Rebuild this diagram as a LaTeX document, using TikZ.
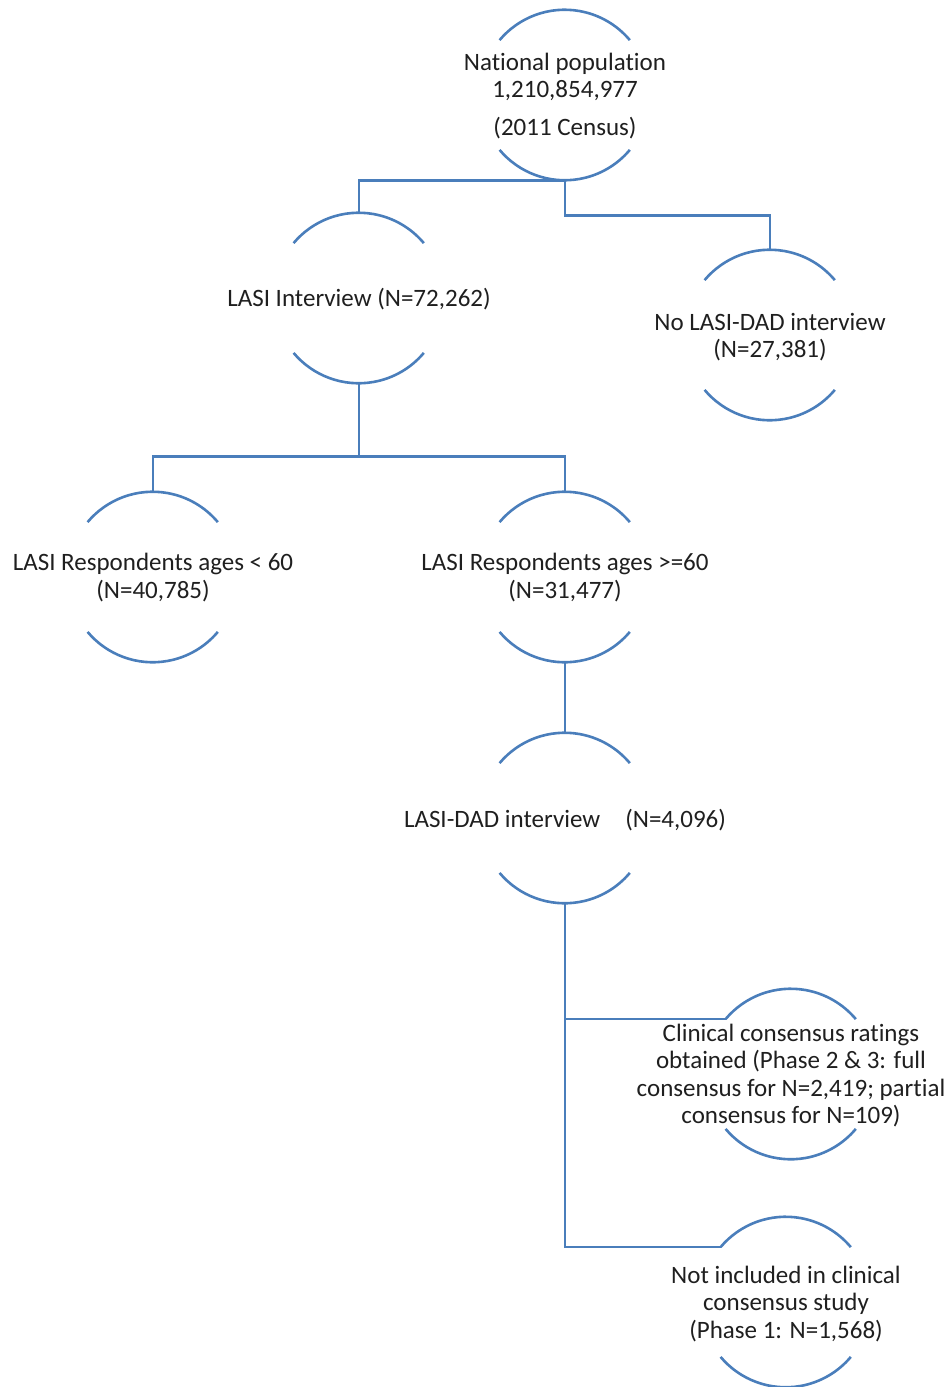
\documentclass[tikz,border=0pt]{standalone}
\usepackage{fontspec}
\setmainfont{Carlito}[Ligatures={NoCommon}]
\begin{document}
\begin{tikzpicture}[x=0.5pt,y=0.5pt,
  flow/.style={draw=lineblue,line width=1.3pt},
  bub/.style={circle,draw=none,minimum size=85pt,inner sep=0pt},
  txt/.style={align=center,font=\fontsize{12.5pt}{13.6pt}\selectfont,inner sep=0pt,text=black!88}]
\definecolor{lineblue}{RGB}{74,126,187}
\useasboundingbox (0,0) rectangle (947,-1387);
% bubble shapes
\node[bub] (top) at (565,-95) {};
\node[bub] (lasi) at (359,-298) {};
\node[bub] (nolasi) at (770,-335) {};
\node[bub] (young) at (153,-577) {};
\node[bub] (old) at (565,-577) {};
\node[bub] (dad) at (565,-818) {};
\node[bub] (clin) at (791,-1074) {};
\node[bub] (notinc) at (786,-1302) {};
\foreach \n in {top,lasi,nolasi,young,old,dad,clin,notinc}{
  \draw[flow] (\n.140) arc[start angle=140,end angle=40,radius=42.5pt];
  \draw[flow] (\n.220) arc[start angle=220,end angle=320,radius=42.5pt];
}
% texts
\node[txt] (topt) at (565,-96) {National population\\1,210,854,977\\[5.5pt](2011 Census)};
\node[txt] (lasit) at (359,-299) {LASI Interview (N=72,262)};
\node[txt] (nolasit) at (770,-337) {No LASI-DAD interview\\(N=27,381)};
\node[txt] (youngt) at (153,-577.5) {LASI Respondents ages {\char`\<} 60\\(N=40,785)};
\node[txt] (oldt) at (565,-577.5) {LASI Respondents ages {\char`\>}=60\\(N=31,477)};
\node[txt] (dadt) at (565,-820) {LASI-DAD interview\hspace{1.0em}(N=4,096)};
\node[txt] (clint) at (791,-1075.5) {Clinical consensus ratings\\obtained (Phase 2 \& 3: full\\consensus for N=2,419; partial\\consensus for N=109)};
\node[txt] (notinct) at (786,-1304) {Not included in clinical\\consensus study\\(Phase 1: N=1,568)};
% connectors
\draw[flow] (top.south) -| (lasi.north);
\draw[flow] (top.south) -- ++(0,-35) -| (nolasi.north);
\draw[flow] (lasi.south) -- ++(0,-73) -| (young.north);
\draw[flow] (lasi.south) -- ++(0,-73) -| (old.north);
\draw[flow] (old.south) -- (dad.north);
\draw[flow] (dad.south) -- (dad.south |- notinc.140) -- (notinc.140);
\draw[flow] (dad.south |- clin.140) -- (clin.140);
\end{tikzpicture}
\end{document}
